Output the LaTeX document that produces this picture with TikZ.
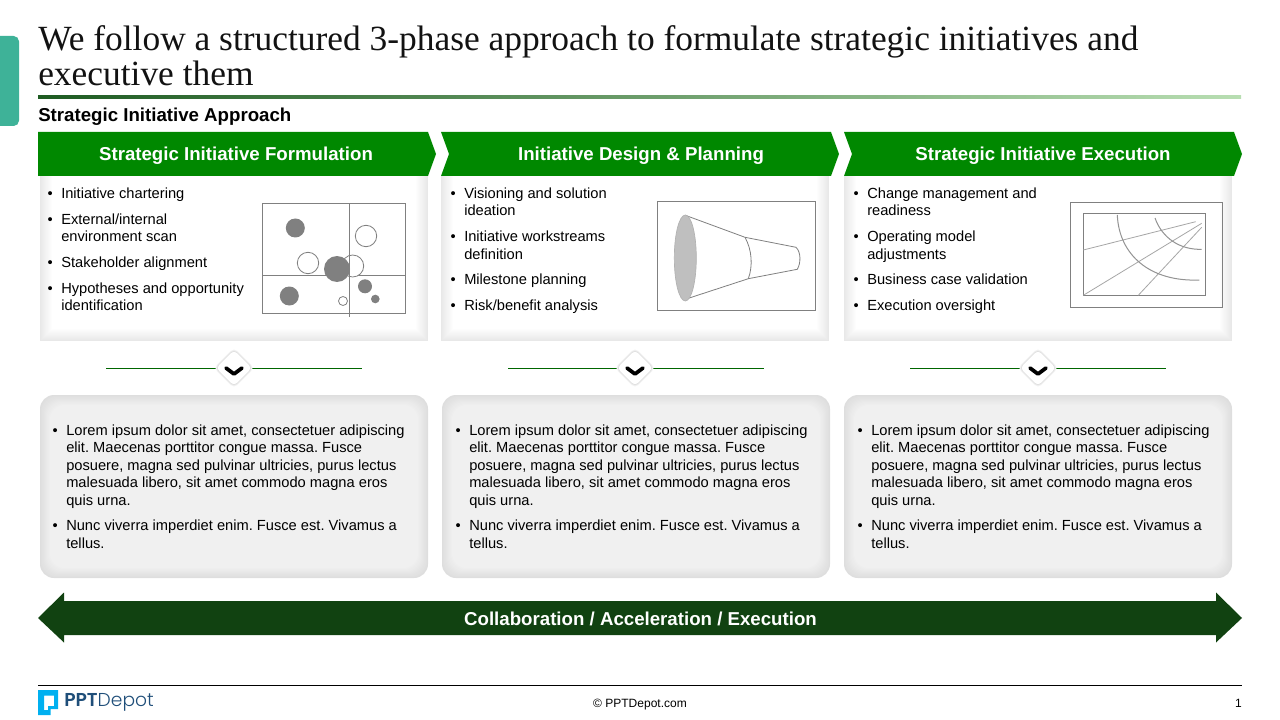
\documentclass[tikz,border=0pt]{standalone}
\usepackage{fontspec}
\setmainfont{Liberation Sans}
\newfontfamily\titlefont{Liberation Serif}
\newfontfamily\logofont[BoldFont={Poppins SemiBold},UprightFont={Poppins Light}]{Poppins}
\usetikzlibrary{shapes, arrows.meta, positioning, calc, shadows}
\definecolor{headgreen}{RGB}{0, 136, 0}
\definecolor{bardark}{RGB}{17, 66, 17}
\definecolor{rulegreen}{RGB}{30, 91, 34}
\definecolor{rulelight}{RGB}{184, 222, 178}
\definecolor{tabteal}{RGB}{62, 178, 152}
\definecolor{edgegray}{RGB}{232, 232, 232}
\definecolor{lowedge}{RGB}{222, 222, 222}
\definecolor{panelgray}{RGB}{240, 240, 240}
\definecolor{figgray}{RGB}{128, 128, 128}
\definecolor{logocyan}{RGB}{0, 176, 240}
\definecolor{logonavy}{RGB}{31, 78, 121}
\newcommand{\blt}{\leavevmode\llap{\textbullet\hspace{6.4pt}}}
\newcommand{\loremtext}{%
  \blt Lorem ipsum dolor sit amet, consectetuer adipiscing\\
  elit. Maecenas porttitor congue massa. Fusce\\
  posuere, magna sed pulvinar ultricies, purus lectus\\
  malesuada libero, sit amet commodo magna eros\\
  quis urna.\\[6.2pt]
  \blt Nunc viverra imperdiet enim. Fusce est. Vivamus a\\
  tellus.}
% soft edge of the white panels: open at the top
\newcommand{\toppanel}[2]{%
  \foreach \i in {0,...,12}{
    \fill[white!\the\numexpr\i*100/12\relax!edgegray] (#1+\i,176) rectangle (#2-\i,341-\i);
  }}
% soft edge of the gray panels
\newcommand{\lowpanel}[2]{%
  \foreach \i in {0,...,10}{
    \fill[panelgray!\the\numexpr\i*10\relax!lowedge, rounded corners=10.5pt] (#1+\i,395+\i) rectangle (#2-\i,578-\i);
  }}
\begin{document}
\begin{tikzpicture}[x=0.75pt, y=-0.75pt,
  headtxt/.style={text=white, font=\fontsize{14}{17}\selectfont\bfseries, inner sep=0pt},
  listtxt/.style={anchor=north west, align=left, inner sep=0pt, font=\fontsize{11}{13.1}\selectfont\frenchspacing},
  footxt/.style={inner sep=0pt, font=\fontsize{9}{11}\selectfont},
  figline/.style={draw=figgray, line width=0.85pt},
  dot/.style={fill=figgray},
  ring/.style={draw=figgray, fill=white, line width=0.6pt},
  thinline/.style={draw=black!35, line width=0.6pt},
  link/.style={draw=headgreen!75!black, line width=0.75pt},
  knob/.style={rectangle, rotate=45, fill=white, rounded corners=3pt, minimum size=19pt, inner sep=0pt,
    general shadow={shadow scale=1.14, fill=black!4},
    general shadow={shadow scale=1.09, fill=black!8},
    general shadow={shadow scale=1.04, fill=black!14}},
  notch/.style={draw=black, line width=2.8pt, line cap=round, line join=round}
]
  \useasboundingbox (0,0) rectangle (1280,720);

  % Side tab
  \fill[tabteal] (0,36) [rounded corners=4pt] -- (19,36) -- (19,126) [sharp corners] -- (0,126) -- cycle;

  % Title
  \node[anchor=north west, align=left, inner sep=0pt, text=black!93, font=\titlefont\fontsize{26.55}{26.2}\selectfont] (title) at (38,25) {We follow a structured 3-phase approach to formulate strategic initiatives and\\executive them};
  \fill[left color=rulegreen, right color=rulelight] (38,95.5) rectangle (1241,99);
  \node[anchor=west, inner sep=0pt, font=\fontsize{14}{17}\selectfont\bfseries] (subtitle) at (38,116.5) {Strategic Initiative Approach};

  % White panels
  \toppanel{40}{428}
  \toppanel{441}{829}
  \toppanel{844}{1232}

  % Phase headers
  \fill[headgreen] (38,132) -- (428,132) -- (436,154) -- (428,176) -- (38,176) -- cycle;
  \fill[headgreen] (441,132) -- (831,132) -- (839,154) -- (831,176) -- (441,176) -- (449,154) -- cycle;
  \fill[headgreen] (844,132) -- (1234,132) -- (1242,154) -- (1234,176) -- (844,176) -- (852,154) -- cycle;
  \node[headtxt] (head1) at (236,156) {Strategic Initiative Formulation};
  \node[headtxt] (head2) at (641,156) {Initiative Design \& Planning};
  \node[headtxt] (head3) at (1043,156) {Strategic Initiative Execution};

  % Lists
  \node[listtxt] (list1) at (61,187.5) {\blt Initiative chartering\\[6.2pt]
    \blt External/internal\\environment scan\\[6.2pt]
    \blt Stakeholder alignment\\[6.2pt]
    \blt Hypotheses and opportunity\\identification};
  \node[listtxt] (list2) at (464,187.5) {\blt Visioning and solution\\ideation\\[6.2pt]
    \blt Initiative workstreams\\definition\\[6.2pt]
    \blt Milestone planning\\[6.2pt]
    \blt Risk/benefit analysis};
  \node[listtxt] (list3) at (867,187.5) {\blt Change management and\\readiness\\[6.2pt]
    \blt Operating model\\adjustments\\[6.2pt]
    \blt Business case validation\\[6.2pt]
    \blt Execution oversight};

  % Bubble chart
  \draw[figline] (262.3,203.5) rectangle (405.7,313.5);
  \draw[figline] (262.3,275.5) -- (405.7,275.5);
  \draw[ring] (352.7,266) circle (11);
  \draw[figline] (349.5,203.5) -- (349.5,316.7);
  \fill[dot] (295.3,228) circle (9.5);
  \fill[dot] (337,269) circle (13);
  \fill[dot] (289.3,296) circle (9.5);
  \fill[dot] (365,286.3) circle (7);
  \fill[dot] (375.3,299) circle (4.3);
  \draw[ring] (366,236) circle (10.7);
  \draw[ring] (308,263) circle (10.7);
  \draw[ring] (343,301) circle (4.5);

  % Funnel
  \draw[figline] (657.5,201.5) rectangle (815.5,310.5);
  \draw[draw=figgray, line width=0.6pt] (685.3,215.3) -- (745,237.3) -- (796,247.3)
    .. controls (801,252) and (801,263) .. (797.3,269.3) -- (748.3,278.7) -- (688.3,298.3);
  \draw[draw=figgray, line width=0.6pt] (745,237.3) .. controls (752,250) and (753,266) .. (748.3,278.7);
  \draw[fill=black!25, draw=black!30, line width=0.5pt] (685.3,258) ellipse (11 and 43);

  % Curve chart
  \draw[figline] (1070.5,202.5) rectangle (1222.5,307.5);
  \draw[figline] (1083.5,213.5) rectangle (1205.5,295.5);
  \draw[thinline] (1083.3,250) -- (1195.7,221.7);
  \draw[thinline] (1083.3,295.3) -- (1201.7,223.3);
  \draw[thinline] (1138.3,295.3) -- (1201.7,227.3);
  \draw[draw=figgray!85, line width=0.75pt] (1117.3,215) .. controls (1119,255) and (1150,282) .. (1199.3,280);
  \draw[draw=figgray!85, line width=0.75pt] (1155,218) .. controls (1162,238) and (1180,250) .. (1201.7,249.3);

  % Links between the panels
  \coordinate (a1) at (106,368.5);
  \coordinate (b1) at (362,368.5);
  \coordinate (a2) at (508,368.5);
  \coordinate (b2) at (764,368.5);
  \coordinate (a3) at (910,368.5);
  \coordinate (b3) at (1166,368.5);
  \draw[link] (a1) -- (b1);
  \draw[link] (a2) -- (b2);
  \draw[link] (a3) -- (b3);
  \node[knob] (knob1) at (234,368) {};
  \node[knob] (knob2) at (635,368) {};
  \node[knob] (knob3) at (1038,368) {};
  \draw[notch] ([shift={(-8,0)}]knob1.center) -- ([shift={(0,6)}]knob1.center) -- ([shift={(8,0)}]knob1.center);
  \draw[notch] ([shift={(-8,0)}]knob2.center) -- ([shift={(0,6)}]knob2.center) -- ([shift={(8,0)}]knob2.center);
  \draw[notch] ([shift={(-8,0)}]knob3.center) -- ([shift={(0,6)}]knob3.center) -- ([shift={(8,0)}]knob3.center);

  % Gray panels
  \lowpanel{40}{428}
  \lowpanel{442}{830}
  \lowpanel{844}{1232}
  \node[listtxt] (lorem1) at (66,424.5) {\loremtext};
  \node[listtxt] (lorem2) at (469,424.5) {\loremtext};
  \node[listtxt] (lorem3) at (871,424.5) {\loremtext};

  % Bottom bar
  \fill[bardark] (38,618) -- (64,592.5) -- (64,601) -- (1216,601) -- (1216,592.5) -- (1242,618) -- (1216,642.5) -- (1216,635) -- (64,635) -- (64,642.5) -- cycle;
  \node[headtxt] (bar) at (640.5,618.5) {Collaboration / Acceleration / Execution};

  % Footer
  \draw[black, line width=0.75pt] (38,685.5) -- (1242,685.5);
  \fill[logocyan, even odd rule] (38,690) -- (58,690) -- (58,709) -- (50.5,709) -- (50.5,715) -- (38,715) -- cycle
    (44,695.5) -- (44,710) -- (48,710) -- (48,706) -- (54,706) -- (54,695.5) -- cycle;
  \node[anchor=west, inner sep=0pt, text=logonavy, font=\logofont\fontsize{14}{15}\selectfont] (logo) at (64,702) {\textbf{PPT}Depot};
  \node[footxt] (copy) at (640,704.5) {© PPTDepot.com};
  \node[footxt, anchor=east] (page) at (1242,703) {1};
\end{tikzpicture}
\end{document}
